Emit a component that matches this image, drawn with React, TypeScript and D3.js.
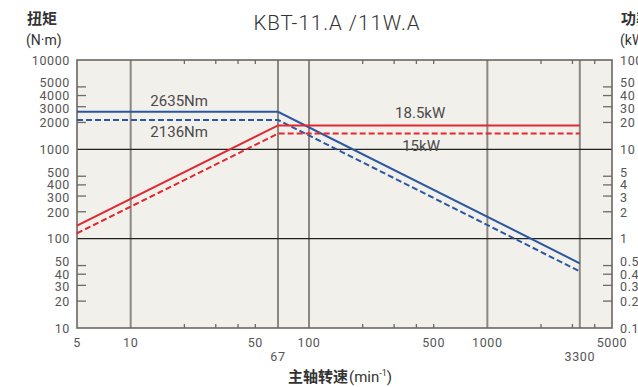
import React, { useEffect, useRef } from 'react';
import * as d3 from 'd3';

// 转速-扭矩/功率 特性曲线  KBT-11.A / 11W.A

const speedPoints = [5, 67, 3300];
const torqueS1 = [2635, 2635, 53];
const torqueS2 = [2136, 2136, 43];
const powerS1 = [1.4, 18.5, 18.5];
const powerS2 = [1.15, 15, 15];

const gridSpeeds = [10, 67, 100, 1000, 3300];
const gridTorques = [100, 1000];
const speedLabels = [5, 10, 50, 100, 500, 1000, 5000];
const speedMarks = [67, 3300];
const speedMinor = [20, 30, 40, 50, 200, 300, 400, 500, 2000, 3000, 4000];
const torqueLabels = [10000, 5000, 4000, 3000, 2000, 1000, 500, 400, 300, 200, 100, 50, 40, 30, 20, 10];
const torqueMinor = [20, 30, 40, 50, 200, 300, 400, 500, 2000, 3000, 4000, 5000];
const powerLabels = ['100', '50', '40', '30', '20', '10', '5', '4', '3', '2', '1', '0.5', '0.4', '0.3', '0.2', '0.1'];

const W = 638;
const H = 387;
const BLUE = '#2b56a4';
const RED = '#e4262f';
const FONT = 'Roboto, "Noto Sans CJK SC", sans-serif';

// 标签微调：让 5/4/3/2 这类密集刻度文字不重叠
const leadNudge: Record<string, number> = { '5': -4, '4': 0, '3': 1.5, '2': 0.5 };
const nudgeOf = (s: string) => {
  const lead = s.replace('0.', '')[0];
  return s.length > 1 || s === '5' || s === '4' || s === '3' || s === '2' ? (leadNudge[lead] || 0) : 0;
};

export default function App() {
  const ref = useRef<SVGSVGElement | null>(null);

  useEffect(() => {
    const svg = d3.select(ref.current);
    svg.selectAll('*').remove();

    const left = 77, right = 612, top = 60, bottom = 328;
    const x = d3.scaleLog().domain([5, 5000]).range([left, right]);
    const y = d3.scaleLog().domain([10, 10000]).range([bottom, top]);
    const yp = d3.scaleLog().domain([0.1, 100]).range([bottom, top]);

    svg.append('rect').attr('width', W).attr('height', H).attr('fill', '#fff');

    // plot background
    svg.append('rect')
      .attr('x', left).attr('y', top)
      .attr('width', right - left).attr('height', bottom - top)
      .attr('fill', '#f2f0ea');

    // vertical grid
    svg.append('g').selectAll('line').data(gridSpeeds).enter().append('line')
      .attr('x1', d => x(d)).attr('x2', d => x(d))
      .attr('y1', top).attr('y2', bottom)
      .attr('stroke', '#8c8782').attr('stroke-width', 2);

    // horizontal grid
    svg.append('g').selectAll('line').data(gridTorques).enter().append('line')
      .attr('x1', left).attr('x2', right)
      .attr('y1', d => y(d)).attr('y2', d => y(d))
      .attr('stroke', '#222').attr('stroke-width', 1.2);

    // minor ticks, top/bottom
    const tickG = svg.append('g').attr('stroke', '#6e6a66').attr('stroke-width', 1.3);
    speedMinor.forEach(v => {
      tickG.append('line').attr('x1', x(v)).attr('x2', x(v)).attr('y1', top).attr('y2', top + 4);
      tickG.append('line').attr('x1', x(v)).attr('x2', x(v)).attr('y1', bottom).attr('y2', bottom - 4);
    });
    // left/right ticks
    torqueMinor.forEach(v => {
      tickG.append('line').attr('x1', left).attr('x2', left + 9).attr('y1', y(v)).attr('y2', y(v));
      tickG.append('line').attr('x1', right).attr('x2', right - 9).attr('y1', y(v)).attr('y2', y(v));
    });

    // border
    svg.append('rect')
      .attr('x', left).attr('y', top)
      .attr('width', right - left).attr('height', bottom - top)
      .attr('fill', 'none').attr('stroke', '#6b6661').attr('stroke-width', 1.6);

    // curves
    const torqueLine = d3.line<number>().x((d, i) => x(speedPoints[i])).y(d => y(d));
    const powerLine = d3.line<number>().x((d, i) => x(speedPoints[i])).y(d => yp(d));
    const series = [
      { path: torqueLine(torqueS1), color: BLUE, dash: null },
      { path: torqueLine(torqueS2), color: BLUE, dash: '6,3' },
      { path: powerLine(powerS1), color: RED, dash: null },
      { path: powerLine(powerS2), color: RED, dash: '6,3' }
    ];
    svg.append('g').selectAll('path').data(series).enter().append('path')
      .attr('d', d => d.path)
      .attr('fill', 'none')
      .attr('stroke', d => d.color)
      .attr('stroke-width', 2)
      .attr('stroke-dasharray', d => d.dash);

    // annotations
    const ann = svg.append('g')
      .style('font-family', FONT).style('font-size', '15px').attr('fill', '#4a4a4a')
      .attr('text-anchor', 'middle');
    ann.append('text').attr('x', x(18.7)).attr('y', y(torqueS1[0]) - 6).text('2635Nm');
    ann.append('text').attr('x', x(18.7)).attr('y', y(torqueS2[0]) + 17).text('2136Nm');
    ann.append('text').attr('x', x(420)).attr('y', yp(powerS1[1]) - 7).text('18.5kW');
    ann.append('text').attr('x', x(425)).attr('y', yp(powerS2[1]) + 17).text('15kW');

    // axis labels
    const lab = svg.append('g')
      .style('font-family', FONT).style('font-size', '12.5px')
      .style('letter-spacing', '0.6px').attr('fill', '#555');
    lab.selectAll('text.l').data(torqueLabels).enter().append('text')
      .attr('x', 70).attr('y', d => y(d) + 4.5 + nudgeOf(String(d)))
      .attr('text-anchor', 'end').text(d => String(d));
    lab.selectAll('text.r').data(powerLabels).enter().append('text')
      .attr('x', 620).attr('y', d => yp(+d) + 4.5 + nudgeOf(d))
      .attr('text-anchor', 'start').text(d => d);
    lab.selectAll('text.b').data(speedLabels).enter().append('text')
      .attr('x', d => x(d)).attr('y', 347)
      .attr('text-anchor', 'middle').text(d => String(d));
    lab.selectAll('text.m').data(speedMarks).enter().append('text')
      .attr('x', d => x(d)).attr('y', 361)
      .attr('text-anchor', 'middle').text(d => String(d));

    // titles
    svg.append('text')
      .attr('x', 337).attr('y', 30)
      .attr('text-anchor', 'middle')
      .style('font-family', FONT).style('font-size', '20.5px').style('font-weight', 300)
      .style('letter-spacing', '1px')
      .attr('fill', '#333').text('KBT-11.A /11W.A');

    const axisTitle = svg.append('g')
      .style('font-family', FONT).attr('fill', '#333');
    axisTitle.append('text').attr('x', 27).attr('y', 24).style('font-size', '15px').style('font-weight', 700).text('扭矩');
    axisTitle.append('text').attr('x', 26).attr('y', 45).style('font-size', '14px').text('(N·m)');
    axisTitle.append('text').attr('x', 621).attr('y', 24).style('font-size', '15px').style('font-weight', 700).text('功率');
    axisTitle.append('text').attr('x', 620).attr('y', 45).style('font-size', '14px').text('(kW)');

    const xt = axisTitle.append('text')
      .attr('x', 288).attr('y', 382)
      .style('font-size', '15px');
    xt.append('tspan').style('font-weight', 700).text('主轴转速');
    xt.append('tspan').attr('dx', 1).text('(min');
    xt.append('tspan').attr('dy', -6).style('font-size', '9px').text('-1');
    xt.append('tspan').attr('dy', 6).text(')');
  }, []);

  return (
    <svg ref={ref} width={W} height={H}
      style={{ position: 'absolute', left: 0, top: 0, display: 'block' }} />
  );
}
